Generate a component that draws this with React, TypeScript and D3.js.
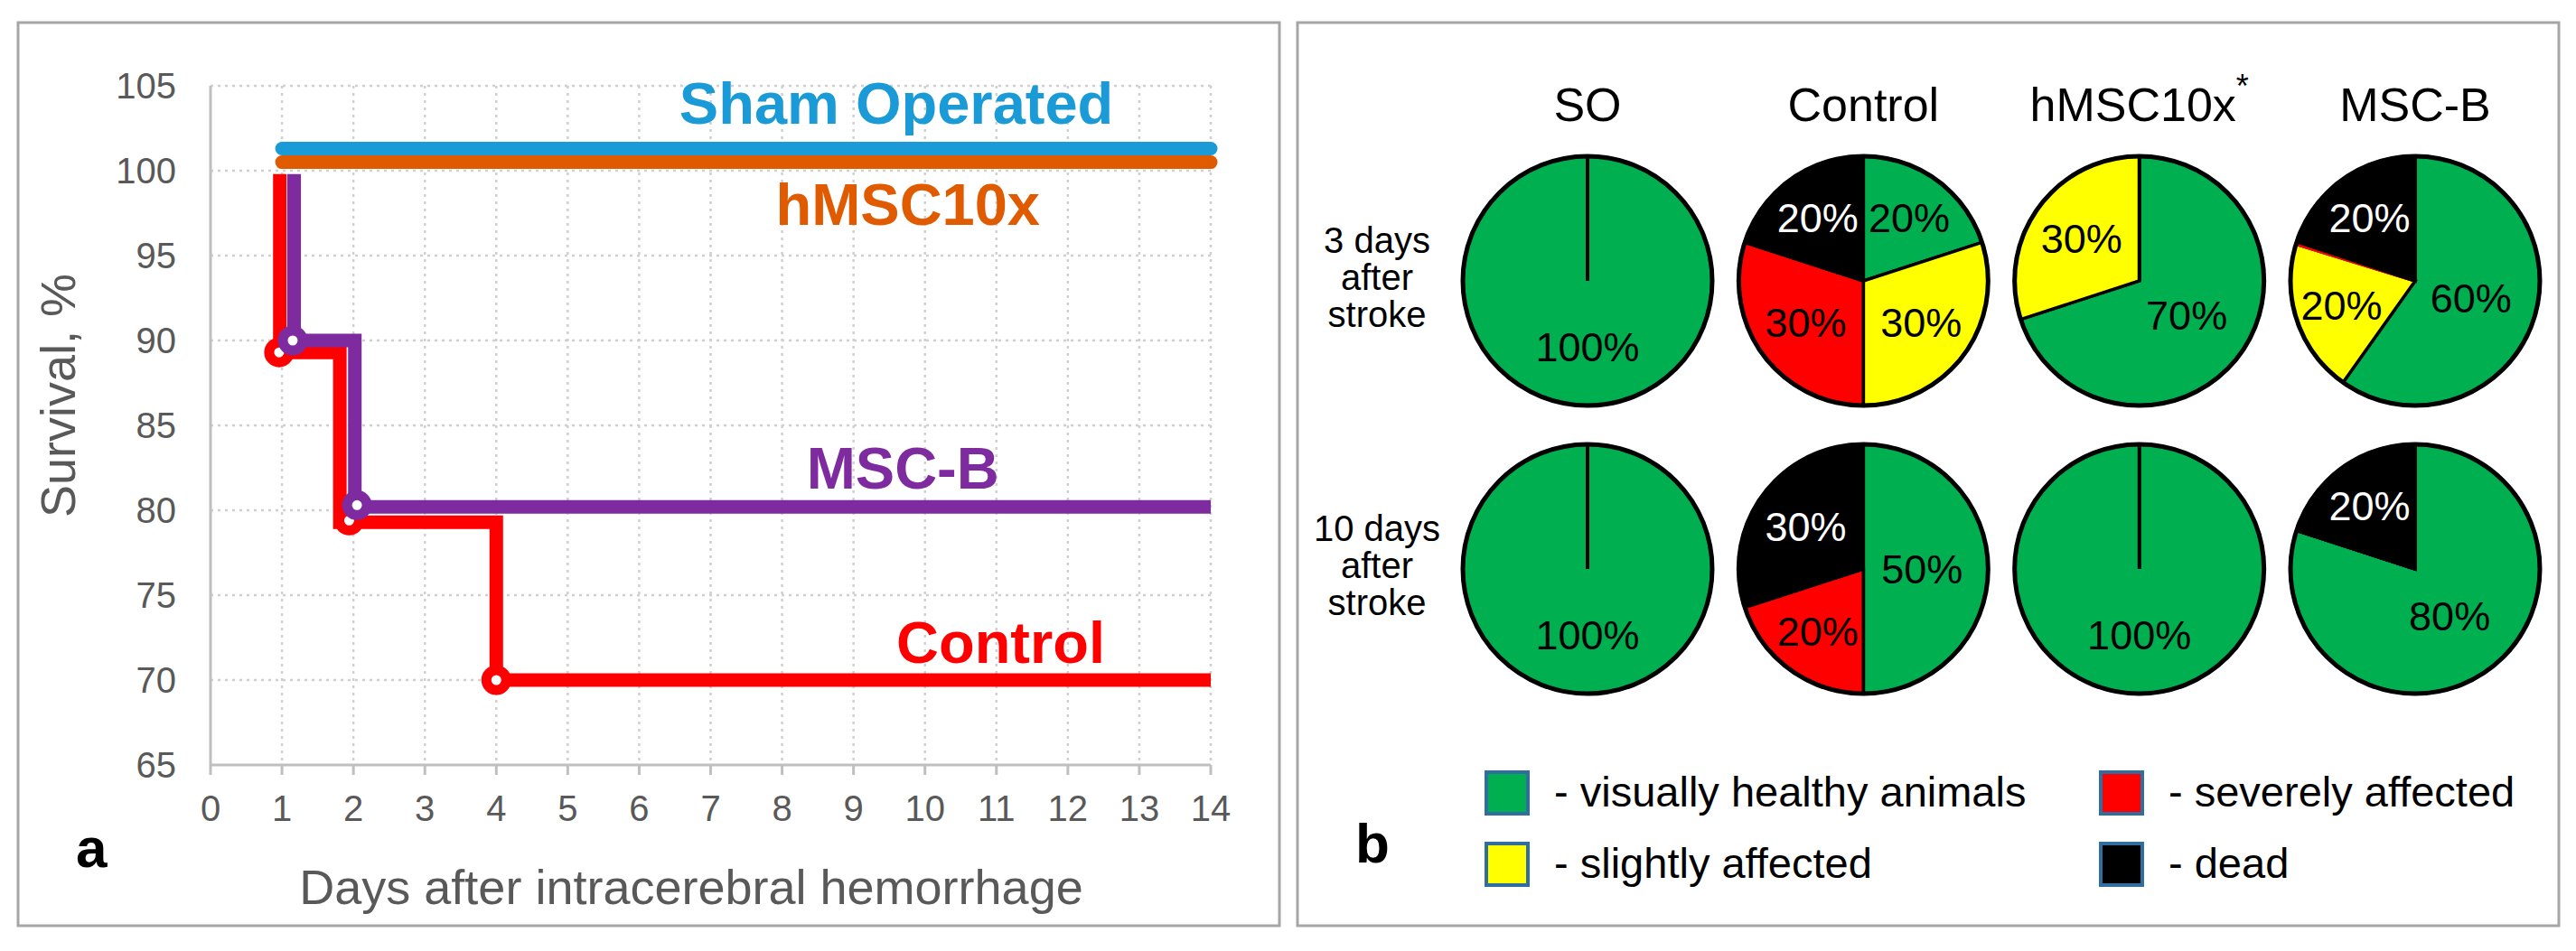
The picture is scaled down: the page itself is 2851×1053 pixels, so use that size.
import React from 'react';
import * as d3 from 'd3';

const W = 2851;
const H = 1053;
const FONT = '"Liberation Sans", Arial, Helvetica, sans-serif';

// ---- panel a: survival curves ----
type Pt = [number, number];
const dayTicks = d3.range(0, 15);
const survivalTicks = [65, 70, 75, 80, 85, 90, 95, 100, 105];

const shamLine: Pt[] = [[1, 101.3], [14, 101.3]];
const hmscLine: Pt[] = [[1, 100.5], [14, 100.5]];
const controlLine: Pt[] = [[0.97, 99.8], [0.97, 89.3], [1.81, 89.3], [1.81, 79.3], [4, 79.3], [4, 70], [14, 70]];
const controlMarks: Pt[] = [[0.96, 89.3], [1.94, 79.4], [4, 70]];
const mscbLine: Pt[] = [[1.17, 99.8], [1.17, 90], [2.02, 90], [2.02, 80.2], [14, 80.2]];
const mscbMarks: Pt[] = [[1.15, 90], [2.05, 80.3]];

const seriesNames = ['Sham Operated', 'hMSC10x', 'Control', 'MSC-B'];
const seriesColors = ['#1a9bd7', '#e05a00', '#ff0000', '#7f2ba0'];
const seriesLines = [shamLine, hmscLine, controlLine, mscbLine];
const seriesMarks: Pt[][] = [[], [], controlMarks, mscbMarks];
// where each series name sits (day, survival) - text centre / baseline
const seriesLabelAt: Pt[] = [[9.6, 102.77], [9.76, 96.8], [11.06, 71.0], [9.69, 81.29]];

// ---- panel b: pies ----
const groups = ['SO', 'Control', 'hMSC10x', 'MSC-B'];
const timepoints = ['3 days', '10 days'];
const statusLabels = ['visually healthy animals', 'slightly affected', 'severely affected', 'dead'];
const statusColors = ['#00b050', '#ffff00', '#ff0000', '#000000'];
// order: healthy, slightly, severely, dead (clockwise from 12 o'clock)
const day3Pct = [[100, 0, 0, 0], [20, 30, 30, 20], [70, 30, 0, 0], [60, 20, 0.3, 20]];
const day10Pct = [[100, 0, 0, 0], [50, 0, 20, 30], [100, 0, 0, 0], [80, 0, 0, 20]];
const rowPct = [day3Pct, day10Pct];

const App: React.FC = () => {
    const x = d3.scaleLinear().domain([0, 14]).range([233, 1340]);
    const y = d3.scaleLinear().domain([65, 105]).range([847, 95]);
    const line = d3.line<Pt>().x(d => x(d[0])).y(d => y(d[1]));

    const px = d3.scalePoint<string>().domain(groups).range([1757, 2673]);
    const py = d3.scalePoint<string>().domain(timepoints).range([311, 630]);
    const R = 138;
    const pie = d3.pie<number>().sort(null).value(d => d);
    const arc = d3.arc<d3.PieArcDatum<number>>().innerRadius(0).outerRadius(R);

    // label distance: sector centroid, but never too close to the centre
    const labelRadius = (a: d3.PieArcDatum<number>) => {
        const t = a.endAngle - a.startAngle;
        if (t >= 2 * Math.PI - 1e-6) return 0.53 * R;
        const centroid = t > 0 ? (4 * R * Math.sin(t / 2)) / (3 * t) : 0;
        return Math.max(centroid, 0.47 * R);
    };

    return (
        <svg width={W} height={H} style={{ position: 'absolute', left: 0, top: 0, background: '#fff' }}
            fontFamily={FONT}>
            <rect x={0} y={0} width={W} height={H} fill="#fff" />

            {/* panel frames */}
            <rect x={20} y={25} width={1396} height={1000} fill="none" stroke="#a6a6a6" strokeWidth={3} />
            <rect x={1436} y={25} width={1396} height={1000} fill="none" stroke="#a6a6a6" strokeWidth={3} />

            {/* ---------- panel a ---------- */}
            <g>
                {survivalTicks.filter(v => v > 65).map(v => (
                    <line key={'h' + v} x1={x(0)} x2={x(14)} y1={y(v)} y2={y(v)}
                        stroke="#d0d0d0" strokeWidth={2.5} strokeDasharray="3 5" />
                ))}
                {dayTicks.filter(d => d > 0).map(d => (
                    <line key={'v' + d} x1={x(d)} x2={x(d)} y1={y(105)} y2={y(65)}
                        stroke="#d0d0d0" strokeWidth={2.5} strokeDasharray="3 5" />
                ))}
                <line x1={x(0)} x2={x(0)} y1={y(105)} y2={y(65)} stroke="#bfbfbf" strokeWidth={3} />
                <line x1={x(0)} x2={x(14)} y1={y(65)} y2={y(65)} stroke="#bfbfbf" strokeWidth={3} />
                {dayTicks.map(d => (
                    <line key={'t' + d} x1={x(d)} x2={x(d)} y1={y(65)} y2={y(65) + 11} stroke="#bfbfbf" strokeWidth={3} />
                ))}
                {dayTicks.map(d => (
                    <text key={'xl' + d} x={x(d)} y={909} textAnchor="middle" fontSize={40} fill="#595959">{d}</text>
                ))}
                {survivalTicks.map(v => (
                    <text key={'yl' + v} x={195} y={y(v)} dy="0.35em" textAnchor="end" fontSize={40} fill="#595959">{v}</text>
                ))}
                <text transform={`translate(83,438) rotate(-90)`} textAnchor="middle" fontSize={54} fill="#595959">Survival, %</text>
                <text x={765} y={1001} textAnchor="middle" fontSize={54} fill="#595959">Days after intracerebral hemorrhage</text>

                {seriesLines.map((pts, i) => (
                    <path key={'s' + i} d={line(pts) || ''} fill="none" stroke={seriesColors[i]} strokeWidth={15}
                        strokeLinecap={i < 2 ? 'round' : 'butt'} strokeLinejoin="miter" />
                ))}
                {seriesMarks.map((pts, i) => pts.map((p, j) => (
                    <circle key={'m' + i + '-' + j} cx={x(p[0])} cy={y(p[1])} r={11}
                        fill="#fff" stroke={seriesColors[i]} strokeWidth={11} />
                )))}
                {seriesNames.map((n, i) => (
                    <text key={'n' + i} x={x(seriesLabelAt[i][0])} y={y(seriesLabelAt[i][1])} textAnchor="middle"
                        fontSize={65} fontWeight="bold" fill={seriesColors[i]}>{n}</text>
                ))}
                <text x={84} y={960} fontSize={62} fontWeight="bold" fill="#000">a</text>
            </g>

            {/* ---------- panel b ---------- */}
            <g>
                {groups.map(g => (
                    <text key={'g' + g} x={px(g)} y={134} textAnchor="middle" fontSize={52} fill="#000">
                        {g}
                        {g === 'hMSC10x' ? <tspan fontSize={36} dy={-26}>*</tspan> : null}
                    </text>
                ))}
                {timepoints.map(tp => (
                    <text key={'r' + tp} x={1524} y={(py(tp) as number) + 10} textAnchor="middle" fontSize={40} fill="#000">
                        {[tp, 'after', 'stroke'].map((s, i) => (
                            <tspan key={i} x={1524} y={(py(tp) as number) + 10 + (i - 1) * 41}>{s}</tspan>
                        ))}
                    </text>
                ))}
                {timepoints.map((tp, ri) => groups.map((g, gi) => {
                    const arcs = pie(rowPct[ri][gi]);
                    const cx = px(g) as number;
                    const cy = py(tp) as number;
                    return (
                        <g key={tp + g} transform={`translate(${cx},${cy})`}>
                            {arcs.map((a, k) => (
                                <path key={k} d={arc(a) || ''} fill={statusColors[k]}
                                    stroke={a.value > 0 && a.value < 1 ? statusColors[k] : '#000'} strokeWidth={3.5} />
                            ))}
                            <circle r={R} fill="none" stroke="#000" strokeWidth={5} />
                            {arcs.filter(a => a.value >= 1).map((a, k) => {
                                const mid = (a.startAngle + a.endAngle) / 2;
                                const rr = labelRadius(a);
                                return (
                                    <text key={'l' + k} x={Math.sin(mid) * rr} y={-Math.cos(mid) * rr} dy="0.35em"
                                        textAnchor="middle" fontSize={45}
                                        fill={a.index === 3 ? '#fff' : '#000'}>{Math.round(a.value)}%</text>
                                );
                            })}
                        </g>
                    );
                }))}
                {statusLabels.map((s, i) => {
                    const lx = i < 2 ? 1643 : 2323;
                    const ly = i % 2 === 0 ? 853 : 932;
                    return (
                        <g key={'lg' + i}>
                            <rect x={lx + 2} y={ly + 2} width={46} height={46} fill={statusColors[i]}
                                stroke="#2f6e9e" strokeWidth={4} />
                            <text x={lx + 77} y={ly + 40} fontSize={47} fill="#000">- {s}</text>
                        </g>
                    );
                })}
                <text x={1500} y={955} fontSize={62} fontWeight="bold" fill="#000">b</text>
            </g>
        </svg>
    );
};

export default App;
